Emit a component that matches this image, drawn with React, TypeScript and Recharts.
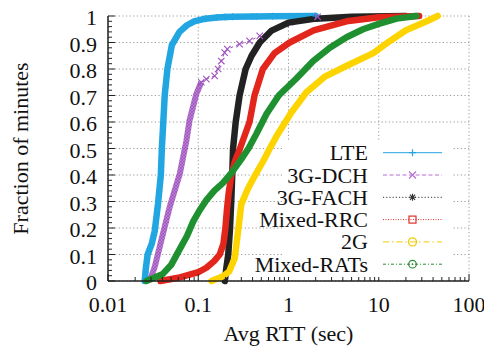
import React from 'react';
import { LineChart, Line, XAxis, YAxis, CartesianGrid, Legend } from 'recharts';

const FONT = "'Liberation Serif', 'Times New Roman', Times, 'DejaVu Serif', serif";

const seriesNames = ['LTE', '3G-DCH', '3G-FACH', 'Mixed-RRC', '2G', 'Mixed-RATs'];

const lteRtt = [0.0255, 0.0263, 0.0275, 0.0305, 0.033, 0.0358, 0.0385, 0.0395, 0.041, 0.0425, 0.0455, 0.051, 0.062, 0.075, 0.09, 0.12, 0.16, 0.2, 0.24, 0.4, 0.44, 0.67, 2];
const lteFrac = [0, 0.05, 0.1, 0.14, 0.19, 0.29, 0.4, 0.5, 0.6, 0.7, 0.8, 0.89, 0.94, 0.965, 0.98, 0.99, 0.994, 0.996, 0.997, 0.998, 0.998, 0.999, 1];

const dchBandRtt = [0.029, 0.033, 0.039, 0.0483, 0.0625, 0.074, 0.08, 0.095, 0.108];
const dchBandFrac = [0, 0.054, 0.154, 0.28, 0.405, 0.53, 0.605, 0.705, 0.75];
const dchTailRtt = [0.108, 0.123, 0.152, 0.166, 0.18, 0.196, 0.21, 0.287, 0.37, 0.48, 2.1];
const dchTailFrac = [0.75, 0.762, 0.774, 0.8, 0.83, 0.862, 0.875, 0.894, 0.906, 0.925, 0.997];

const fachRtt = [0.197, 0.205, 0.215, 0.225, 0.232, 0.238, 0.243, 0.26, 0.287, 0.335, 0.39, 0.48, 0.65, 1.0, 2, 5, 20];
const fachFrac = [0, 0.05, 0.1, 0.2, 0.3, 0.4, 0.5, 0.6, 0.7, 0.8, 0.85, 0.9, 0.945, 0.975, 0.99, 0.997, 1];

const rrcRtt = [0.038, 0.06, 0.08, 0.1, 0.123, 0.15, 0.173, 0.19, 0.2, 0.208, 0.217, 0.233, 0.254, 0.29, 0.37, 0.42, 0.52, 0.7, 1.03, 1.9, 4.4, 10, 28];
const rrcFrac = [0, 0.012, 0.024, 0.033, 0.05, 0.075, 0.1, 0.14, 0.2, 0.27, 0.33, 0.4, 0.45, 0.5, 0.6, 0.7, 0.8, 0.86, 0.9, 0.946, 0.98, 0.995, 1];

const g2Rtt = [0.14, 0.188, 0.22, 0.254, 0.276, 0.3, 0.357, 0.42, 0.52, 0.62, 0.73, 1.07, 1.58, 2.5, 4.6, 8.7, 13.2, 20, 34, 45];
const g2Frac = [0, 0.018, 0.036, 0.087, 0.187, 0.29, 0.35, 0.395, 0.45, 0.5, 0.544, 0.635, 0.712, 0.77, 0.815, 0.86, 0.905, 0.946, 0.98, 1];

const ratsRtt = [0.0266, 0.04, 0.05, 0.06, 0.075, 0.088, 0.105, 0.123, 0.15, 0.188, 0.23, 0.3, 0.36, 0.44, 0.57, 0.78, 1.23, 1.88, 2.87, 4.4, 6.7, 10, 15.8, 26];
const ratsFrac = [0, 0.025, 0.06, 0.11, 0.17, 0.225, 0.27, 0.305, 0.34, 0.37, 0.405, 0.46, 0.5, 0.555, 0.63, 0.7, 0.765, 0.83, 0.88, 0.92, 0.95, 0.97, 0.99, 1];

const xMajorTicks = [0.01, 0.1, 1, 10, 100];
const xTickLabels = ['0.01', '0.1', '1', '10', '100'];
const yMajorTicks = [0, 0.1, 0.2, 0.3, 0.4, 0.5, 0.6, 0.7, 0.8, 0.9, 1];
const yTickLabels = ['0', '0.1', '0.2', '0.3', '0.4', '0.5', '0.6', '0.7', '0.8', '0.9', '1'];

const zip = (xs: number[], ys: number[]) => xs.map((x, i) => ({ x, y: ys[i] }));

const lteData = zip(lteRtt, lteFrac);
const dchBandData = zip(dchBandRtt, dchBandFrac);
const dchTailData = zip(dchTailRtt, dchTailFrac);
const fachData = zip(fachRtt, fachFrac);
const rrcData = zip(rrcRtt, rrcFrac);
const g2Data = zip(g2Rtt, g2Frac);
const ratsData = zip(ratsRtt, ratsFrac);

const xAllTicks = xMajorTicks
  .slice(0, -1)
  .flatMap((d) => [1, 2, 3, 4, 5, 6, 7, 8, 9].map((k) => +(k * d).toPrecision(6)))
  .concat([100]);
const yAllTicks = Array.from({ length: 51 }, (_, i) => +(i * 0.02).toFixed(2));

const xMajorIndex = (v: number) => xMajorTicks.findIndex((m) => Math.abs(v - m) < m * 1e-6);
const yMajorIndex = (v: number) => yMajorTicks.findIndex((m) => Math.abs(v - m) < 1e-6);

const C = {
  lte: '#22A6E2',
  dch: '#9E50BE',
  fach: '#222222',
  rrc: '#E2261C',
  g2: '#FDD400',
  rats: '#1F9030',
};

const AX = '#222';
const MAJ = 7;
const MIN = 4;
const textStyle: React.CSSProperties = { fontSize: 22, fontFamily: FONT, fill: '#111' };

const BottomTick = (p: any) => {
  const i = xMajorIndex(p.payload.value);
  return (
    <g>
      <line x1={p.x} x2={p.x} y1={p.y} y2={p.y - (i >= 0 ? MAJ : MIN)} stroke={AX} strokeWidth={1} />
      {i >= 0 && (
        <text x={p.x} y={p.y + 31} textAnchor="middle" style={textStyle}>
          {xTickLabels[i]}
        </text>
      )}
    </g>
  );
};
const TopTick = (p: any) => {
  const i = xMajorIndex(p.payload.value);
  return <line x1={p.x} x2={p.x} y1={p.y} y2={p.y + (i >= 0 ? MAJ : MIN)} stroke={AX} strokeWidth={1} />;
};
const LeftTick = (p: any) => {
  const i = yMajorIndex(p.payload.value);
  return (
    <g>
      <line x1={p.x} x2={p.x + (i >= 0 ? MAJ : MIN)} y1={p.y} y2={p.y} stroke={AX} strokeWidth={1} />
      {i >= 0 && (
        <text x={p.x - 11} y={p.y + 9} textAnchor="end" style={textStyle}>
          {yTickLabels[i]}
        </text>
      )}
    </g>
  );
};
const RightTick = (p: any) => {
  const i = yMajorIndex(p.payload.value);
  return <line x1={p.x} x2={p.x - (i >= 0 ? MAJ : MIN)} y1={p.y} y2={p.y} stroke={AX} strokeWidth={1} />;
};

const XLabel = (p: any) => {
  const vb = p.viewBox || {};
  return (
    <text x={vb.x + vb.width / 2} y={vb.y + vb.height - 10} textAnchor="middle" style={textStyle}>
      Avg RTT (sec)
    </text>
  );
};
const YLabel = (p: any) => {
  const vb = p.viewBox || {};
  const cx = vb.x + 19.5;
  const cy = vb.y + vb.height / 2;
  return (
    <text x={cx} y={cy} transform={`rotate(-90 ${cx} ${cy})`} textAnchor="middle" style={textStyle}>
      Fraction of minutes
    </text>
  );
};

const PlusDot = (p: any) => {
  if (p.cx == null || p.payload.y < 0.985) return <g key={p.index} />;
  return (
    <path key={p.index} d={`M${p.cx - 3.5},${p.cy}h7M${p.cx},${p.cy - 3.5}v7`} stroke={C.lte} strokeWidth={1.2} fill="none" />
  );
};
const CrossDot = (p: any) => {
  if (p.cx == null) return <g key={p.index} />;
  const s = 3.2;
  return (
    <path
      key={p.index}
      d={`M${p.cx - s},${p.cy - s}L${p.cx + s},${p.cy + s}M${p.cx + s},${p.cy - s}L${p.cx - s},${p.cy + s}`}
      stroke={C.dch}
      strokeWidth={1.1}
      fill="none"
    />
  );
};

const legendSamples = [
  { color: C.lte, dash: undefined, marker: 'plus' },
  { color: '#B46FD0', dash: '4 2.5', marker: 'cross' },
  { color: '#333', dash: '1.2 2', marker: 'star' },
  { color: '#E0302A', dash: '1 1.5', marker: 'square' },
  { color: '#F2CC00', dash: '6 3 1.5 3', marker: 'circle' },
  { color: '#2A8C35', dash: '3 2 1 2', marker: 'dotcircle' },
];

const Marker = ({ kind, x, y, color }: any) => {
  const s = 3.5;
  switch (kind) {
    case 'plus':
      return <path d={`M${x - s},${y}h${2 * s}M${x},${y - s}v${2 * s}`} stroke={color} strokeWidth={1.2} />;
    case 'cross':
      return <path d={`M${x - s},${y - s}L${x + s},${y + s}M${x + s},${y - s}L${x - s},${y + s}`} stroke={color} strokeWidth={1.2} />;
    case 'star':
      return (
        <path
          d={`M${x - s},${y}h${2 * s}M${x},${y - s}v${2 * s}M${x - 2.6},${y - 2.6}L${x + 2.6},${y + 2.6}M${x + 2.6},${y - 2.6}L${x - 2.6},${y + 2.6}`}
          stroke={color}
          strokeWidth={1.1}
        />
      );
    case 'square':
      return <rect x={x - 3.5} y={y - 3.5} width={7} height={7} fill="none" stroke={color} strokeWidth={1.2} />;
    case 'circle':
      return <circle cx={x} cy={y} r={4} fill="none" stroke={color} strokeWidth={1.3} />;
    default:
      return (
        <g>
          <circle cx={x} cy={y} r={3.8} fill="none" stroke={color} strokeWidth={1.2} />
          <circle cx={x} cy={y} r={0.9} fill={color} />
        </g>
      );
  }
};

const LegendBox = () => (
  <div style={{ width: 170, height: 136, background: '#fff' }}>
    <svg width={170} height={136} style={{ overflow: 'visible', display: 'block' }}>
      {seriesNames.map((name, i) => {
        const cy = 11.7 + i * 22.3;
        const s = legendSamples[i];
        return (
          <g key={name}>
            <text x={86} y={cy + 7.5} textAnchor="end" style={textStyle}>
              {name}
            </text>
            <line x1={101} x2={160} y1={cy} y2={cy} stroke={s.color} strokeWidth={1} strokeDasharray={s.dash} />
            <Marker kind={s.marker} x={130.5} y={cy} color={s.color} />
          </g>
        );
      })}
    </svg>
  </div>
);

export default function App() {
  return (
    <LineChart width={484} height={343} margin={{ top: 8, right: 23, bottom: 0, left: 0 }} style={{ fontFamily: FONT }}>
      <defs>
        <pattern id="dchHatch" width="3.2" height="3.2" patternUnits="userSpaceOnUse">
          <path d="M0,0 L3.2,3.2 M3.2,0 L0,3.2" stroke={C.dch} strokeWidth="1.3" />
        </pattern>
      </defs>
      <CartesianGrid
        verticalValues={xMajorTicks}
        horizontalValues={yMajorTicks}
        stroke="#9a9a9a"
        strokeDasharray="1.2 2.4"
      />
      <XAxis
        dataKey="x"
        type="number"
        scale="log"
        domain={[0.01, 100]}
        ticks={xAllTicks}
        interval={0}
        tick={<BottomTick />}
        tickSize={0}
        tickMargin={0}
        tickLine={false}
        axisLine={{ stroke: AX, strokeWidth: 1.5 }}
        height={70}
        label={<XLabel />}
      />
      <XAxis
        xAxisId="top"
        orientation="top"
        dataKey="x"
        type="number"
        scale="log"
        domain={[0.01, 100]}
        ticks={xAllTicks}
        interval={0}
        tick={<TopTick />}
        tickSize={0}
        tickMargin={0}
        tickLine={false}
        axisLine={{ stroke: AX, strokeWidth: 1.5 }}
        height={0}
      />
      <YAxis
        type="number"
        domain={[0, 1]}
        ticks={yAllTicks}
        interval={0}
        tick={<LeftTick />}
        tickSize={0}
        tickMargin={0}
        tickLine={false}
        axisLine={{ stroke: AX, strokeWidth: 1.5 }}
        width={100}
        label={<YLabel />}
      />
      <YAxis
        yAxisId="right"
        orientation="right"
        type="number"
        domain={[0, 1]}
        ticks={yAllTicks}
        interval={0}
        tick={<RightTick />}
        tickSize={0}
        tickMargin={0}
        tickLine={false}
        axisLine={{ stroke: AX, strokeWidth: 1.5 }}
        width={0}
      />
      <Line data={lteData} dataKey="y" name="LTE" type="linear" stroke={C.lte} strokeWidth={6.5} strokeLinejoin="round" strokeLinecap="round" dot={PlusDot} activeDot={false} isAnimationActive={false} />
      <Line data={dchBandData} dataKey="y" name="3G-DCH" type="linear" stroke="url(#dchHatch)" strokeWidth={6} dot={false} activeDot={false} isAnimationActive={false} />
      <Line data={dchTailData} dataKey="y" name="3G-DCH tail" type="linear" stroke={C.dch} strokeWidth={1} strokeDasharray="3 3" dot={CrossDot} activeDot={false} isAnimationActive={false} />
      <Line data={fachData} dataKey="y" name="3G-FACH" type="linear" stroke={C.fach} strokeWidth={6.5} strokeLinejoin="round" strokeLinecap="round" dot={false} activeDot={false} isAnimationActive={false} />
      <Line data={rrcData} dataKey="y" name="Mixed-RRC" type="linear" stroke={C.rrc} strokeWidth={6.5} strokeLinejoin="round" strokeLinecap="round" dot={false} activeDot={false} isAnimationActive={false} />
      <Line data={g2Data} dataKey="y" name="2G" type="linear" stroke={C.g2} strokeWidth={6.5} strokeLinejoin="round" strokeLinecap="round" dot={false} activeDot={false} isAnimationActive={false} />
      <Line data={ratsData} dataKey="y" name="Mixed-RATs" type="linear" stroke={C.rats} strokeWidth={6.5} strokeLinejoin="round" strokeLinecap="round" dot={false} activeDot={false} isAnimationActive={false} />
      <Legend
        layout="vertical"
        align="center"
        verticalAlign="middle"
        content={<LegendBox />}
        wrapperStyle={{ left: 274, top: 133, width: 170, height: 136 }}
      />
    </LineChart>
  );
}
